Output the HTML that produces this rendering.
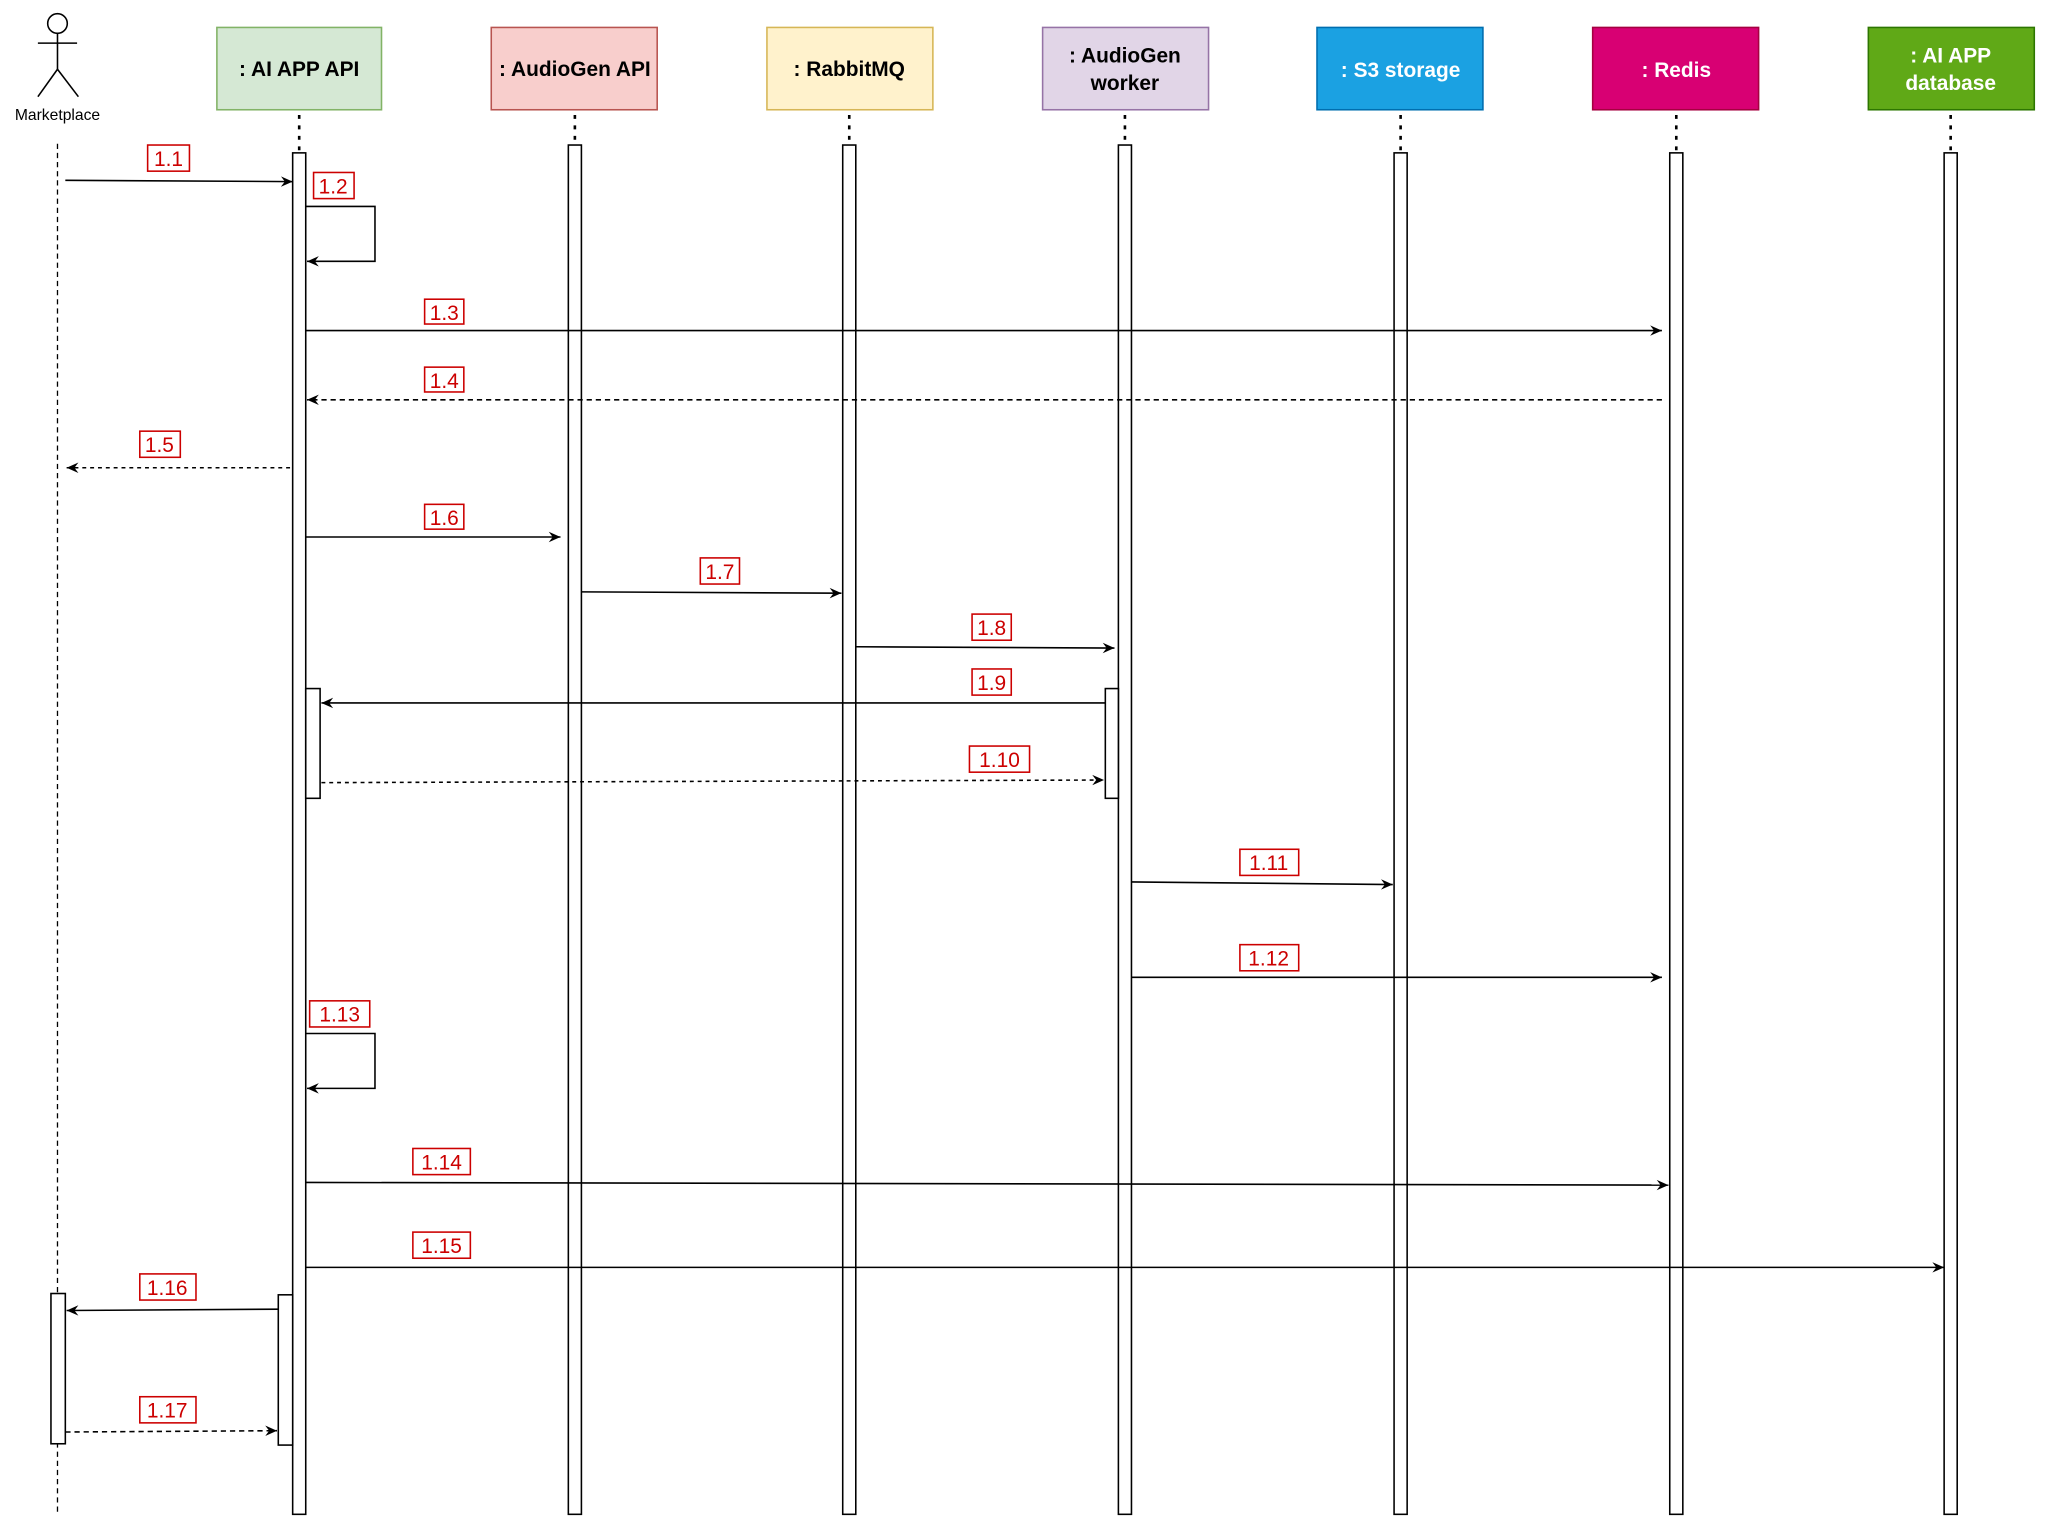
<!DOCTYPE html>
<html><head><meta charset="utf-8"><style>
html,body{margin:0;padding:0;background:#fff;}
svg{display:block;}
.t{font-family:"Liberation Sans",Arial,sans-serif;font-weight:bold;font-size:16px;text-anchor:middle;}
.l{font-family:"Liberation Sans",Arial,sans-serif;font-size:16px;fill:#cc0000;text-anchor:middle;}
</style></head><body>
<svg width="2048" height="1530" viewBox="0 0 1567.5 1171" preserveAspectRatio="none" xmlns="http://www.w3.org/2000/svg">
<defs>
<marker id="a" markerWidth="10" markerHeight="10" refX="9" refY="5" orient="auto" markerUnits="userSpaceOnUse">
<path d="M0,1 L9,5 L0,9 L3,5 Z" fill="#000"/></marker>
</defs>
<rect width="1567.5" height="1171" fill="#fff"/>
<!-- actor -->
<circle cx="44" cy="18" r="7.5" fill="none" stroke="#000" stroke-width="1.2"/>
<line x1="44" y1="26" x2="44" y2="53" stroke="#000" stroke-width="1.2"/>
<line x1="29" y1="33" x2="59" y2="33" stroke="#000" stroke-width="1.2"/>
<line x1="44" y1="53" x2="29" y2="74" stroke="#000" stroke-width="1.2"/>
<line x1="44" y1="53" x2="60" y2="74" stroke="#000" stroke-width="1.2"/>
<text x="44" y="92" font-family="Liberation Sans,Arial,sans-serif" font-size="12" text-anchor="middle">Marketplace</text>
<line x1="44" y1="110" x2="44" y2="1160" stroke="#000" stroke-dasharray="4,3"/>
<!-- boxes -->
<g stroke-width="1.2">
<rect x="166" y="21" width="126" height="63" fill="#d5e8d4" stroke="#82b366"/>
<rect x="376" y="21" width="127" height="63" fill="#f8cecc" stroke="#b85450"/>
<rect x="587" y="21" width="127" height="63" fill="#fff2cc" stroke="#d6b656"/>
<rect x="798" y="21" width="127" height="63" fill="#e1d5e7" stroke="#9673a6"/>
<rect x="1008" y="21" width="127" height="63" fill="#1ba1e2" stroke="#006eaf"/>
<rect x="1219" y="21" width="127" height="63" fill="#d80073" stroke="#a50040"/>
<rect x="1430" y="21" width="127" height="63" fill="#60a917" stroke="#2d7600"/>
</g>
<text class="t" x="229" y="58">: AI APP API</text>
<text class="t" x="440" y="58">: AudioGen API</text>
<text class="t" x="650" y="58">: RabbitMQ</text>
<text class="t" x="861" y="48">: AudioGen</text>
<text class="t" x="861" y="69">worker</text>
<text class="t" x="1072" y="59" fill="#fff">: S3 storage</text>
<text class="t" x="1283" y="59" fill="#fff">: Redis</text>
<text class="t" x="1493" y="48" fill="#fff">: AI APP</text>
<text class="t" x="1493" y="69" fill="#fff">database</text>
<!-- dotted lifeline stubs -->
<g stroke="#000" stroke-width="2" stroke-dasharray="3,5">
<line x1="229" y1="88" x2="229" y2="117"/>
<line x1="440" y1="88" x2="440" y2="111"/>
<line x1="650" y1="88" x2="650" y2="111"/>
<line x1="861" y1="88" x2="861" y2="111"/>
<line x1="1072" y1="88" x2="1072" y2="117"/>
<line x1="1283" y1="88" x2="1283" y2="117"/>
<line x1="1493" y1="88" x2="1493" y2="117"/>
</g>
<!-- activations -->
<g fill="#fff" stroke="#000" stroke-width="1.2">
<rect x="224" y="117" width="10" height="1042"/>
<rect x="435" y="111" width="10" height="1048"/>
<rect x="645" y="111" width="10" height="1048"/>
<rect x="856" y="111" width="10" height="1048"/>
<rect x="1067" y="117" width="10" height="1042"/>
<rect x="1278" y="117" width="10" height="1042"/>
<rect x="1488" y="117" width="10" height="1042"/>
<rect x="234" y="527" width="11" height="84"/>
<rect x="846" y="527" width="10" height="84"/>
<rect x="39" y="990" width="11" height="115"/>
<rect x="213" y="991" width="11" height="115"/>
</g>
<!-- messages -->
<g stroke="#000" stroke-width="1.2" fill="none">
<line x1="50" y1="138" x2="224" y2="139" marker-end="url(#a)"/>
<polyline points="234,158 287,158 287,200 235,200" marker-end="url(#a)"/>
<line x1="234" y1="253" x2="1272" y2="253" marker-end="url(#a)"/>
<line x1="1272" y1="306" x2="235" y2="306" stroke-dasharray="4,3" marker-end="url(#a)"/>
<line x1="222" y1="358" x2="51" y2="358" stroke-dasharray="3,3" marker-end="url(#a)"/>
<line x1="234" y1="411" x2="429" y2="411" marker-end="url(#a)"/>
<line x1="445" y1="453" x2="644" y2="454" marker-end="url(#a)"/>
<line x1="655" y1="495" x2="853" y2="496" marker-end="url(#a)"/>
<line x1="846" y1="538" x2="246" y2="538" marker-end="url(#a)"/>
<line x1="246" y1="599" x2="845" y2="597" stroke-dasharray="3,3" marker-end="url(#a)"/>
<line x1="866" y1="675" x2="1066" y2="677" marker-end="url(#a)"/>
<line x1="866" y1="748" x2="1272" y2="748" marker-end="url(#a)"/>
<polyline points="234,791 287,791 287,833 235,833" marker-end="url(#a)"/>
<line x1="234" y1="905" x2="1277" y2="907" marker-end="url(#a)"/>
<line x1="234" y1="970" x2="1488" y2="970" marker-end="url(#a)"/>
<line x1="213" y1="1002" x2="51" y2="1003" marker-end="url(#a)"/>
<line x1="50" y1="1096" x2="212" y2="1095" stroke-dasharray="4,3" marker-end="url(#a)"/>
</g>
<!-- labels -->
<g fill="#fff" stroke="#cc0000" stroke-width="1.2">
<rect x="113" y="111" width="32" height="20"/>
<rect x="240" y="132" width="31" height="20"/>
<rect x="325" y="229" width="30" height="19"/>
<rect x="325" y="281" width="30" height="19"/>
<rect x="107" y="330" width="31" height="20"/>
<rect x="325" y="386" width="30" height="19"/>
<rect x="536" y="427" width="30" height="20"/>
<rect x="744" y="470" width="30" height="20"/>
<rect x="744" y="512" width="30" height="20"/>
<rect x="742" y="571" width="46" height="20"/>
<rect x="949" y="650" width="45" height="20"/>
<rect x="949" y="723" width="45" height="20"/>
<rect x="237" y="766" width="46" height="20"/>
<rect x="316" y="879" width="44" height="20"/>
<rect x="316" y="943" width="44" height="20"/>
<rect x="107" y="975" width="43" height="20"/>
<rect x="107" y="1069" width="43" height="20"/>
</g>
<text class="l" x="129" y="127">1.1</text>
<text class="l" x="255" y="148">1.2</text>
<text class="l" x="340" y="245">1.3</text>
<text class="l" x="340" y="297">1.4</text>
<text class="l" x="122" y="346">1.5</text>
<text class="l" x="340" y="402">1.6</text>
<text class="l" x="551" y="443">1.7</text>
<text class="l" x="759" y="486">1.8</text>
<text class="l" x="759" y="528">1.9</text>
<text class="l" x="765" y="587">1.10</text>
<text class="l" x="971" y="666">1.11</text>
<text class="l" x="971" y="739">1.12</text>
<text class="l" x="260" y="782">1.13</text>
<text class="l" x="338" y="895">1.14</text>
<text class="l" x="338" y="959">1.15</text>
<text class="l" x="128" y="991">1.16</text>
<text class="l" x="128" y="1085">1.17</text>
</svg>
</body></html>
